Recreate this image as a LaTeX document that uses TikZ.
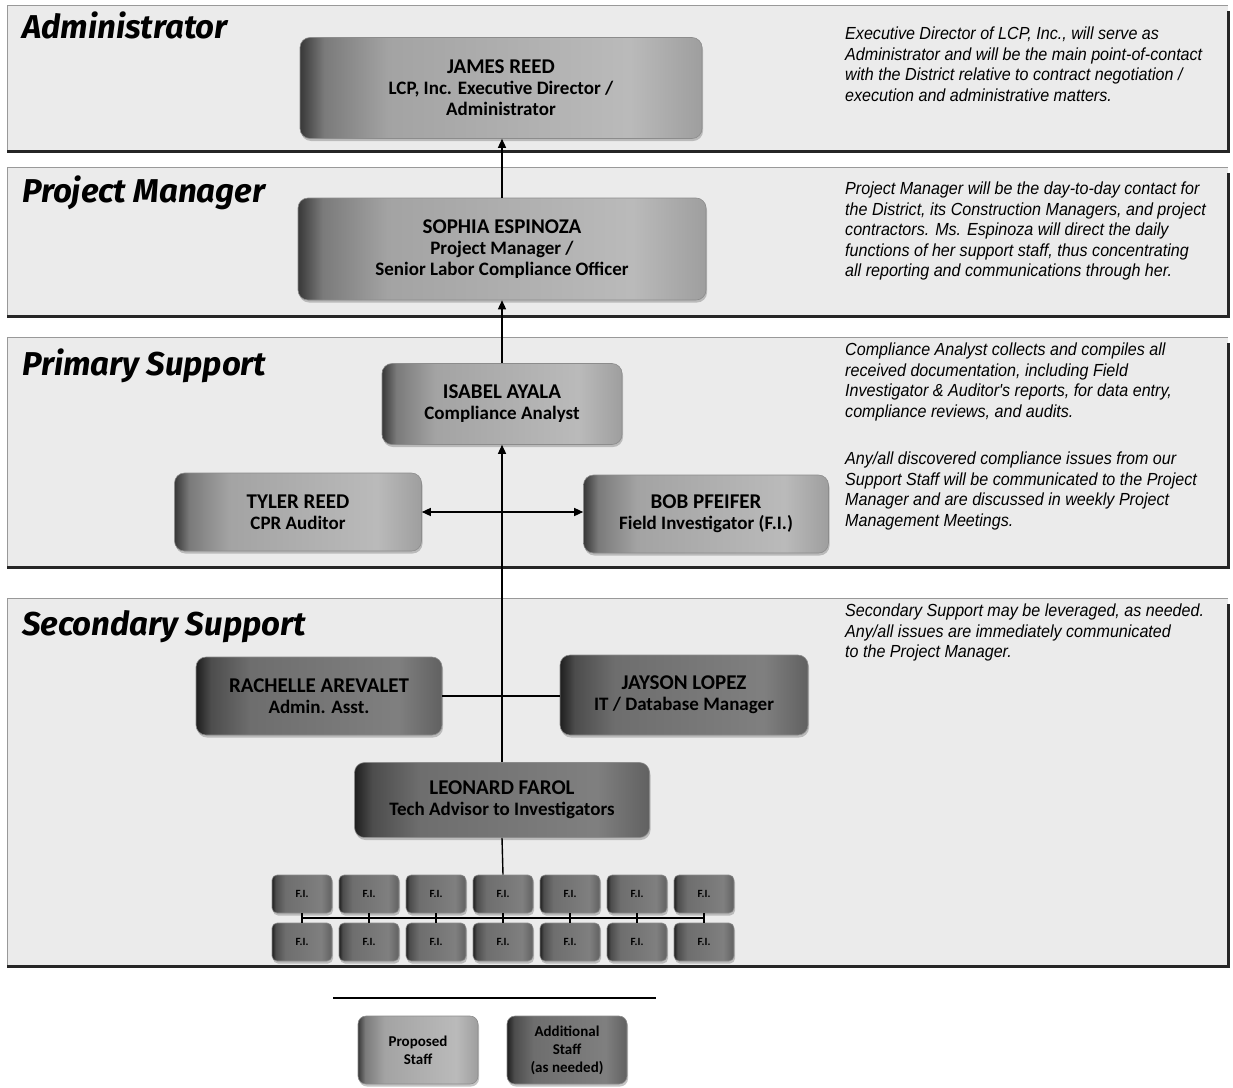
\documentclass[tikz,border=0pt]{standalone}
\usepackage{fontspec}
\setmainfont{Carlito}
\newfontfamily\ttlfont{Fira Sans}
\newfontfamily\descfont[FakeStretch=0.92]{Liberation Sans}
\usetikzlibrary{arrows.meta,shadows}
\newcommand\staffname[1]{{\fontsize{21}{21}\selectfont #1}}
\pgfdeclarehorizontalshading{lightshade}{100bp}{color(0bp)=(black!78); color(25bp)=(black!78); color(28bp)=(black!52); color(36bp)=(black!36); color(66bp)=(black!27); color(75bp)=(black!38); color(100bp)=(black!38)}
\pgfdeclarehorizontalshading{darkshade}{100bp}{color(0bp)=(black!88); color(25bp)=(black!88); color(28bp)=(black!70); color(36bp)=(black!57); color(66bp)=(black!50); color(75bp)=(black!62); color(100bp)=(black!62)}
\begin{document}
\begin{tikzpicture}[x=1pt,y=-1pt,
  ttl/.style={anchor=base west, inner sep=0, font=\ttlfont\bfseries\itshape\fontsize{33}{36}\selectfont},
  desc/.style={anchor=north west, inner sep=0, align=left, font=\descfont\itshape\fontsize{17.5}{20.5}\selectfont},
  staff/.style={rounded corners=10pt, draw=black!45, line width=0.6pt, align=center, inner sep=2pt,
    font=\bfseries\fontsize{19}{21}\selectfont,
    drop shadow={opacity=0.45, shadow xshift=1pt, shadow yshift=-2.5pt}},
  lightbox/.style={staff, shading=lightshade},
  darkbox/.style={staff, shading=darkshade},
  fibox/.style={darkbox, rounded corners=5pt, minimum width=60, minimum height=38, inner sep=0,
    font=\bfseries\fontsize{11}{12}\selectfont},
  legbox/.style={rounded corners=8pt, minimum width=120, minimum height=68, inner sep=0,
    font=\bfseries\fontsize{15}{18}\selectfont},
  conn/.style={line width=1.4pt, black},
  arr/.style={conn, -{Triangle[length=9pt,width=8pt]}},
  darr/.style={conn, {Triangle[length=9pt,width=8pt]}-{Triangle[length=9pt,width=8pt]}},
]
\useasboundingbox (0,0) rectangle (1233,1087);
\fill[white] (0,0) rectangle (1233,1087);

% bands
\foreach \ya/\yb in {5/151, 167/316, 337/567, 598/966} {
  \fill[black!8] (7,\ya) rectangle (1228,\yb);
  \draw[black!40, line width=0.6pt] (7,\yb) -- (7,\ya) -- (1228,\ya);
  \draw[black!85, line width=3pt] (7,\yb) -- (1228,\yb) -- (1228,\ya+6);
}

% titles
\node[ttl] (tAdmin) at (22,38) {Administrator};
\node[ttl] (tPM) at (22,202) {Project Manager};
\node[ttl] (tPS) at (22,375) {Primary Support};
\node[ttl] (tSS) at (22,635) {Secondary Support};

% staff boxes
\node[lightbox, minimum width=402, minimum height=101] (james) at (501,88) {\staffname{JAMES REED}\\LCP, Inc. Executive Director /\\Administrator};
\node[lightbox, minimum width=408, minimum height=102] (sophia) at (502,249) {\staffname{SOPHIA ESPINOZA}\\Project Manager /\\Senior Labor Compliance Officer};
\node[lightbox, minimum width=240, minimum height=81] (isabel) at (502,404) {\staffname{ISABEL AYALA}\\Compliance Analyst};
\node[lightbox, minimum width=247, minimum height=78] (tyler) at (298,512) {\staffname{TYLER REED}\\CPR Auditor};
\node[lightbox, minimum width=245, minimum height=78] (bob) at (706,514) {\staffname{BOB PFEIFER}\\Field Investigator (F.I.)};
\node[darkbox, minimum width=246, minimum height=78] (rachelle) at (319,696) {\staffname{RACHELLE AREVALET}\\Admin. Asst.};
\node[darkbox, minimum width=248, minimum height=80] (jayson) at (684,695) {\staffname{JAYSON LOPEZ}\\IT / Database Manager};
\node[darkbox, minimum width=295, minimum height=75] (leonard) at (502,800) {\staffname{LEONARD FAROL}\\Tech Advisor to Investigators};

% F.I. grid
\foreach \k in {1,...,7} {
  \pgfmathsetmacro\xx{302+67*(\k-1)}
  \node[fibox] (fia\k) at (\xx,894) {F.I.};
  \node[fibox] (fib\k) at (\xx,942) {F.I.};
  \draw[conn] (fia\k.south) -- (fib\k.north);
}
\path (fia1.south) -- (fib1.north) coordinate[midway] (barL);
\path (fia7.south) -- (fib7.north) coordinate[midway] (barR);
\draw[conn] (barL) -- (barR);

% connectors
\draw[arr] (sophia.north) -- (sophia.north |- james.south);
\draw[arr] (isabel.north) -- (isabel.north |- sophia.south);
\draw[arr] (leonard.north) -- (isabel.south);
\draw[darr] (tyler.east) -- (tyler.east -| bob.west);
\draw[conn] (rachelle.east) -- (rachelle.east -| jayson.west);
\draw[conn] (leonard.south) -- (fia4.north);

% descriptions
\node[desc] (d1) at (845,27) {Executive Director of LCP, Inc., will serve as\\Administrator and will be the main point-of-contact\\with the District relative to contract negotiation /\\execution and administrative matters.};
\node[desc] (d2) at (845,182) {Project Manager will be the day-to-day contact for\\the District, its Construction Managers, and project\\contractors. Ms. Espinoza will direct the daily\\functions of her support staff, thus concentrating\\all reporting and communications through her.};
\node[desc] (d3) at (845,343) {Compliance Analyst collects and compiles all\\received documentation, including Field\\Investigator \& Auditor's reports, for data entry,\\compliance reviews, and audits.};
\node[desc] (d4) at (845,452) {Any/all discovered compliance issues from our\\Support Staff will be communicated to the Project\\Manager and are discussed in weekly Project\\Management Meetings.};
\node[desc] (d5) at (845,604) {Secondary Support may be leveraged, as needed.\\Any/all issues are immediately communicated\\to the Project Manager.};

% legend
\coordinate (legL) at (333,998);
\coordinate (legR) at (656,998);
\draw[line width=1.3pt] (legL) -- (legR);
\node[lightbox, legbox] (prop) at (418,1050) {Proposed\\Staff};
\node[darkbox, legbox] (addl) at (567,1050) {Additional\\Staff\\(as needed)};
\end{tikzpicture}
\end{document}
